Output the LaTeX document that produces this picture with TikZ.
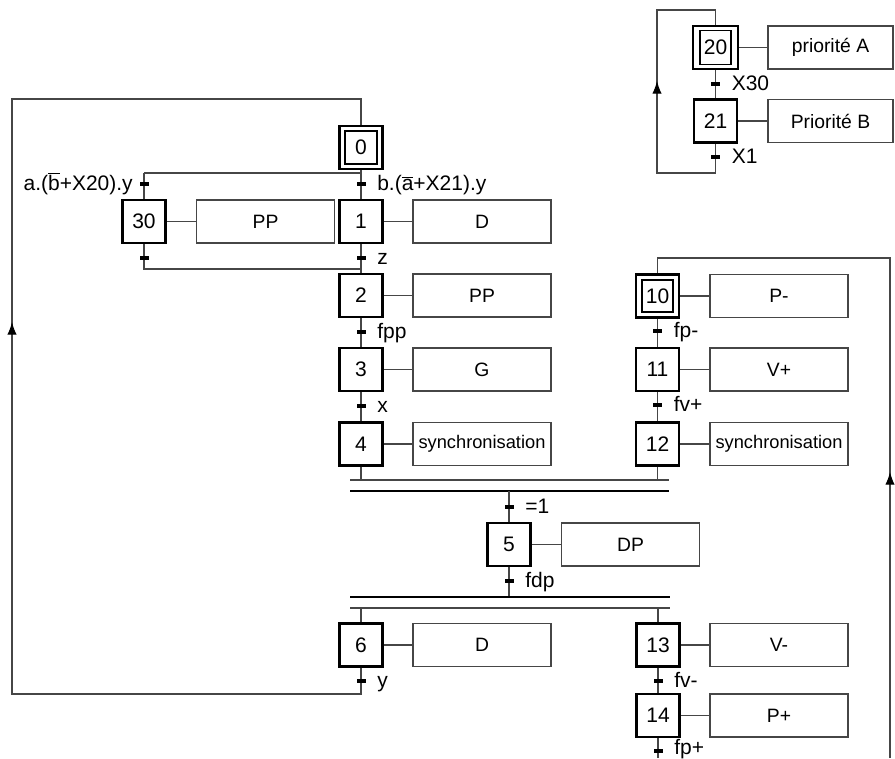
\documentclass[tikz,border=0pt]{standalone}
\usepackage{fontspec}
\setmainfont{Liberation Sans}
\usetikzlibrary{arrows.meta}
\definecolor{lc}{RGB}{70,70,70}
\newcommand{\ovb}[1]{$\overline{\mbox{#1}}$}
\begin{document}
\begin{tikzpicture}[x=0.75pt,y=-0.75pt,
  stepbox/.style={draw=black, line width=1.8pt, minimum width=32.5pt, minimum height=32.25pt, inner sep=0pt, font=\fontsize{15.75}{18}\selectfont},
  innerbox/.style={draw=black, line width=1.3pt, minimum width=23.5pt, minimum height=24.5pt, inner sep=0pt, font=\fontsize{15.75}{18}\selectfont},
  actbox/.style={draw=lc, line width=0.8pt, minimum width=103.5pt, minimum height=32.25pt, inner sep=0pt, font=\fontsize{14.5}{16}\selectfont},
  syncbox/.style={actbox, font=\fontsize{13.7}{16}\selectfont},
  trans/.style={fill=black, inner sep=0pt, minimum width=6.75pt, minimum height=2.6pt},
  lbl/.style={font=\fontsize{15.75}{18}\selectfont, inner sep=0pt},
  ln/.style={draw=lc, line width=0.8pt},
  bl/.style={draw=black, line width=0.8pt},
  arr/.style={ln, -{Latex[length=9.5pt,width=7pt,black]}}
]
\useasboundingbox (0,0) rectangle (895,758);

% ---------- top right: steps 20, 21 ----------
\node[stepbox, minimum width=33.75pt] (s20) at (715.5,47.5) {};
\node[innerbox, minimum height=25.5pt] (s20i) at (715.5,47.5) {20};
\node[actbox, minimum width=93.75pt] (a20) at (830.5,47.5) {priorité A};
\node[stepbox] (s21) at (715.5,121) {21};
\node[actbox, minimum width=93.75pt] (a21) at (830.5,121) {Priorité B};
\draw[ln] (s20.east) -- (a20.west);
\draw[ln] (s21.east) -- (a21.west);
\draw[ln] (s20.south) -- (s21.north);
\coordinate (c21b) at (715.5,173);
\coordinate (c21l) at (657,173);
\coordinate (c20l) at (657,10);
\coordinate (c20t) at (715.5,10);
\coordinate (ar20a) at (657,100);
\coordinate (ar20b) at (657,81);
\draw[ln] (s21.south) -- (c21b) -- (c21l) -- (c20l) -- (c20t) -- (s20.north);
\draw[arr] (ar20a) -- (ar20b);
\node[trans] (t20) at (715.5,84) {};
\node[trans] (t21) at (715.5,157) {};
\path (t20) ++(16,6.5) node[lbl, anchor=base west] (l20) {X30};
\path (t21) ++(16,6.5) node[lbl, anchor=base west] (l21) {X1};

% ---------- main sequence ----------
\node[stepbox] (s0) at (361,147.5) {};
\node[innerbox] (s0i) at (361,147.5) {0};
\coordinate (d0l) at (144,173);
\coordinate (d0r) at (361,173);
\node[stepbox] (s30) at (144,221.5) {30};
\node[actbox] (a30) at (265.5,221.5) {PP};
\node[stepbox] (s1) at (361,221.5) {1};
\node[actbox] (a1) at (482,221.5) {D};
\coordinate (j0l) at (144,269);
\coordinate (j0r) at (361,269);
\node[stepbox] (s2) at (361,295.5) {2};
\node[actbox] (a2) at (482,295.5) {PP};
\node[stepbox] (s3) at (361,369.5) {3};
\node[actbox] (a3) at (482,369.5) {G};
\node[stepbox] (s4) at (361,444) {4};
\node[syncbox] (a4) at (482,444) {synchronisation};

% right sequence 10-12
\node[stepbox] (s10) at (657.5,296) {};
\node[innerbox] (s10i) at (657.5,296) {10};
\node[actbox] (a10) at (779,296) {P-};
\node[stepbox] (s11) at (657.5,369.5) {11};
\node[actbox] (a11) at (779,369.5) {V+};
\node[stepbox] (s12) at (657.5,444) {12};
\node[syncbox] (a12) at (779,444) {synchronisation};

% synchronisation
\coordinate (p1l) at (350,480);
\coordinate (p1r) at (669,480);
\coordinate (p2l) at (350,491);
\coordinate (p2r) at (669,491);
\node[stepbox] (s5) at (509,544.5) {5};
\node[actbox] (a5) at (630.5,544.5) {DP};
\coordinate (q1l) at (350,597);
\coordinate (q1r) at (670,597);
\coordinate (q2l) at (350,608);
\coordinate (q2r) at (670,608);
\node[stepbox] (s6) at (361,645) {6};
\node[actbox] (a6) at (482,645) {D};
\node[stepbox] (s13) at (658,645) {13};
\node[actbox] (a13) at (779,645) {V-};
\node[stepbox] (s14) at (658,715.5) {14};
\node[actbox] (a14) at (779,715.5) {P+};

% action links
\foreach \s/\a in {s30/a30,s1/a1,s2/a2,s3/a3,s4/a4,s10/a10,s11/a11,s12/a12,s5/a5,s6/a6,s13/a13,s14/a14}
  \draw[ln] (\s.east) -- (\a.west);

% vertical links
\draw[ln] (s0.south) -- (d0r) -- (s1.north);
\draw[ln] (d0l) -- (d0r);
\draw[ln] (d0l) -- (s30.north);
\draw[ln] (s30.south) -- (j0l) -- (j0r);
\draw[ln] (s1.south) -- (s2.north);
\draw[ln] (s2.south) -- (s3.north);
\draw[ln] (s3.south) -- (s4.north);
\coordinate (s4b) at (361,480);
\coordinate (s12b) at (657.5,480);
\draw[ln] (s4.south) -- (s4b);
\draw[ln] (s10.south) -- (s11.north);
\draw[ln] (s11.south) -- (s12.north);
\draw[ln] (s12.south) -- (s12b);
\draw[ln] (p1l) -- (p1r);
\draw[bl] (p2l) -- (p2r);
\coordinate (s5t) at (509,491);
\coordinate (s5b) at (509,597);
\draw[ln] (s5t) -- (s5.north);
\draw[ln] (s5.south) -- (s5b);
\draw[bl] (q1l) -- (q1r);
\draw[ln] (q2l) -- (q2r);
\coordinate (s6t) at (361,608);
\coordinate (s13t) at (658,608);
\draw[ln] (s6t) -- (s6.north);
\draw[ln] (s13t) -- (s13.north);
\draw[ln] (s13.south) -- (s14.north);

% loops
\coordinate (c6b) at (361,694);
\coordinate (c6l) at (12,694);
\coordinate (c0l) at (12,99);
\coordinate (c0t) at (361,99);
\draw[ln] (s6.south) -- (c6b) -- (c6l) -- (c0l) -- (c0t) -- (s0.north);
\coordinate (ar0a) at (12,345);
\coordinate (ar0b) at (12,322);
\draw[arr] (ar0a) -- (ar0b);
\coordinate (c14b) at (658,758);
\coordinate (c10r0) at (890,758);
\coordinate (c10r) at (890,258);
\coordinate (c10t) at (657.5,258);
\draw[ln] (s14.south) -- (c14b);
\draw[ln] (c10r0) -- (c10r) -- (c10t) -- (s10.north);
\coordinate (ar10a) at (890,495);
\coordinate (ar10b) at (890,472);
\draw[arr] (ar10a) -- (ar10b);

% transitions
\node[trans] (t0a) at (144,184) {};
\node[trans] (t0b) at (361,184) {};
\node[trans] (t30) at (144,258) {};
\node[trans] (t1) at (361,258) {};
\node[trans] (t2) at (361,332) {};
\node[trans] (t3) at (361,406) {};
\node[trans] (t10) at (657.5,331) {};
\node[trans] (t11) at (657.5,405) {};
\node[trans] (t4) at (509,507) {};
\node[trans] (t5) at (509,581) {};
\node[trans] (t6) at (361,681) {};
\node[trans] (t13) at (658,681) {};
\node[trans] (t14) at (658,751) {};

\path (t0a) ++(-11,6.5) node[lbl, anchor=base east] (l0a) {a.(\ovb{b}+X20).y};
\path (t0b) ++(16,6.5) node[lbl, anchor=base west] (l0b) {b.(\ovb{a}+X21).y};
\path (t1) ++(16,6.5) node[lbl, anchor=base west] (l1) {z};
\path (t2) ++(16,6.5) node[lbl, anchor=base west] (l2) {fpp};
\path (t3) ++(16,6.5) node[lbl, anchor=base west] (l3) {x};
\path (t10) ++(16,6.5) node[lbl, anchor=base west] (l10) {fp-};
\path (t11) ++(16,6.5) node[lbl, anchor=base west] (l11) {fv+};
\path (t4) ++(16,6.5) node[lbl, anchor=base west] (l4) {=1};
\path (t5) ++(16,6.5) node[lbl, anchor=base west] (l5) {fdp};
\path (t6) ++(16,6.5) node[lbl, anchor=base west] (l6) {y};
\path (t13) ++(16,6.5) node[lbl, anchor=base west] (l13) {fv-};
\path (t14) ++(16,3.5) node[lbl, anchor=base west] (l14) {fp+};
\end{tikzpicture}
\end{document}
